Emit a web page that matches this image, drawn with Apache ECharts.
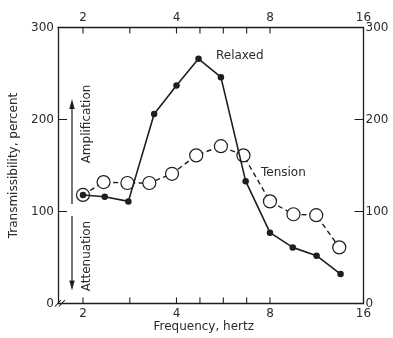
<!DOCTYPE html>
<html><head><meta charset="utf-8">
<script src="https://cdn.jsdelivr.net/npm/echarts@6/dist/echarts.min.js"></script>
<style>html,body{margin:0;padding:0;background:#fff}#c{width:393px;height:338px}</style>
</head><body><div id="c"></div>
<script>
// ---- data ----
const relaxedFreq = [2, 2.35, 2.8, 3.39, 4, 4.71, 5.56, 6.68, 8, 9.47, 11.3, 13.5];
const relaxedValues = [118, 116, 111, 206, 237, 266, 246, 133, 77, 61, 52, 32];
const tensionFreq = [2, 2.33, 2.78, 3.27, 3.87, 4.63, 5.56, 6.57, 8, 9.52, 11.27, 13.37];
const tensionValues = [118, 132, 131, 131, 141, 161, 171, 161, 111, 97, 96, 61];
const freqTickLabels = [2, 4, 8, 16];
const freqTicks = [2, 2.83, 4, 4.76, 5.66, 6.73, 8, 16];
const percentTicks = [0, 100, 200, 300];

const ink = '#1e1e1e';
const txt = '#2a2a2a';
const font = 'DejaVu Sans';
const yMin = percentTicks[0], yMax = percentTicks[percentTicks.length - 1];

function xAxisCfg(pos, extra) {
  return Object.assign({
    type: 'log', logBase: 2, min: 1.662, max: 16, position: pos,
    axisLine: { show: true, onZero: false, lineStyle: { color: ink, width: 1.3 } },
    axisTick: { show: false },
    axisLabel: { customValues: freqTickLabels, color: txt, fontSize: 12, fontFamily: font, margin: 4,
      formatter: v => String(Math.round(v)) },
    splitLine: { show: false }, minorTick: { show: false }, minorSplitLine: { show: false }
  }, extra || {});
}
function yAxisCfg(pos, extra) {
  return Object.assign({
    type: 'value', min: yMin, max: yMax, interval: 100, position: pos,
    axisLine: { show: true, onZero: false, lineStyle: { color: ink, width: 1.3 } },
    axisTick: { show: true, inside: true, length: 9, lineStyle: { color: ink, width: 1 } },
    axisLabel: { color: txt, fontSize: 12, fontFamily: font, margin: pos === 'left' ? 4 : 2 },
    splitLine: { show: false }
  }, extra || {});
}

const chart = echarts.init(document.getElementById('c'), null, { renderer: 'canvas' });
chart.setOption({
  animation: false,
  backgroundColor: '#fff',
  grid: { left: 58, right: 29.5, top: 27.5, bottom: 34.5, containLabel: false, outerBoundsMode: 'none' },
  xAxis: [
    xAxisCfg('bottom', { name: 'Frequency, hertz', nameLocation: 'middle', nameGap: 17, nameMoveOverlap: false,
      nameTextStyle: { color: txt, fontSize: 12, fontFamily: font, padding: [0, 14, 0, 0] } }),
    xAxisCfg('top')
  ],
  yAxis: [
    yAxisCfg('left', { name: 'Transmissibility, percent', nameLocation: 'middle', nameGap: 38, nameRotate: 90, nameMoveOverlap: false,
      nameTextStyle: { color: txt, fontSize: 12, fontFamily: font } }),
    yAxisCfg('right')
  ],
  series: [
    {
      // frequency axis ticks (bottom and top, pointing inward), placed through the axis scale
      name: 'freqTicks', type: 'custom', xAxisIndex: 0, yAxisIndex: 0, silent: true, clip: false, z: 5,
      encode: { x: 0, y: 1 },
      data: freqTicks.map(f => [f, yMin]),
      renderItem: function (params, api) {
        const f = api.value(0);
        const b = api.coord([f, yMin]);
        const t = api.coord([f, yMax]);
        const st = { stroke: ink, lineWidth: 1.1, fill: null };
        return { type: 'group', children: [
          { type: 'line', shape: { x1: b[0], y1: b[1], x2: b[0], y2: b[1] - 6 }, style: st },
          { type: 'line', shape: { x1: t[0], y1: t[1], x2: t[0], y2: t[1] + 6 }, style: st }
        ] };
      }
    },
    {
      name: 'Tension', type: 'line', xAxisIndex: 0, yAxisIndex: 0, z: 2,
      data: tensionFreq.map((f, i) => [f, tensionValues[i]]),
      symbol: 'circle', symbolSize: 13, showAllSymbol: true,
      itemStyle: { color: '#fff', borderColor: ink, borderWidth: 1.2 },
      lineStyle: { color: ink, width: 1.4, type: [5, 3.5] }
    },
    {
      name: 'Relaxed', type: 'line', xAxisIndex: 0, yAxisIndex: 0, z: 3,
      data: relaxedFreq.map((f, i) => [f, relaxedValues[i]]),
      symbol: 'circle', symbolSize: 6.5, showAllSymbol: true,
      itemStyle: { color: ink, borderWidth: 0 },
      lineStyle: { color: ink, width: 1.6 }
    }
  ],
  graphic: [
    { type: 'text', left: 216, top: 50, style: { text: 'Relaxed', font: '12px "DejaVu Sans"', fill: txt } },
    { type: 'text', left: 261, top: 167, style: { text: 'Tension', font: '12px "DejaVu Sans"', fill: txt } },
    { type: 'text', x: 86.5, y: 124, rotation: Math.PI / 2,
      style: { text: 'Amplification', font: '12px "DejaVu Sans"', fill: txt, align: 'center', verticalAlign: 'middle' } },
    { type: 'text', x: 87, y: 256, rotation: Math.PI / 2,
      style: { text: 'Attenuation', font: '12px "DejaVu Sans"', fill: txt, align: 'center', verticalAlign: 'middle' } },
    { type: 'line', shape: { x1: 72, y1: 204, x2: 72, y2: 106 }, style: { stroke: ink, lineWidth: 1.2 } },
    { type: 'polygon', shape: { points: [[72, 99], [69.3, 109], [74.7, 109]] }, style: { fill: ink } },
    { type: 'line', shape: { x1: 72, y1: 216, x2: 72, y2: 283 }, style: { stroke: ink, lineWidth: 1.2 } },
    { type: 'polygon', shape: { points: [[72, 290.5], [69.3, 280.5], [74.7, 280.5]] }, style: { fill: ink } },
    { type: 'line', shape: { x1: 55, y1: 306.5, x2: 61, y2: 300 }, style: { stroke: ink, lineWidth: 1.1 } },
    { type: 'line', shape: { x1: 59, y1: 306.5, x2: 65, y2: 300 }, style: { stroke: ink, lineWidth: 1.1 } }
  ]
});
</script>
</body></html>
